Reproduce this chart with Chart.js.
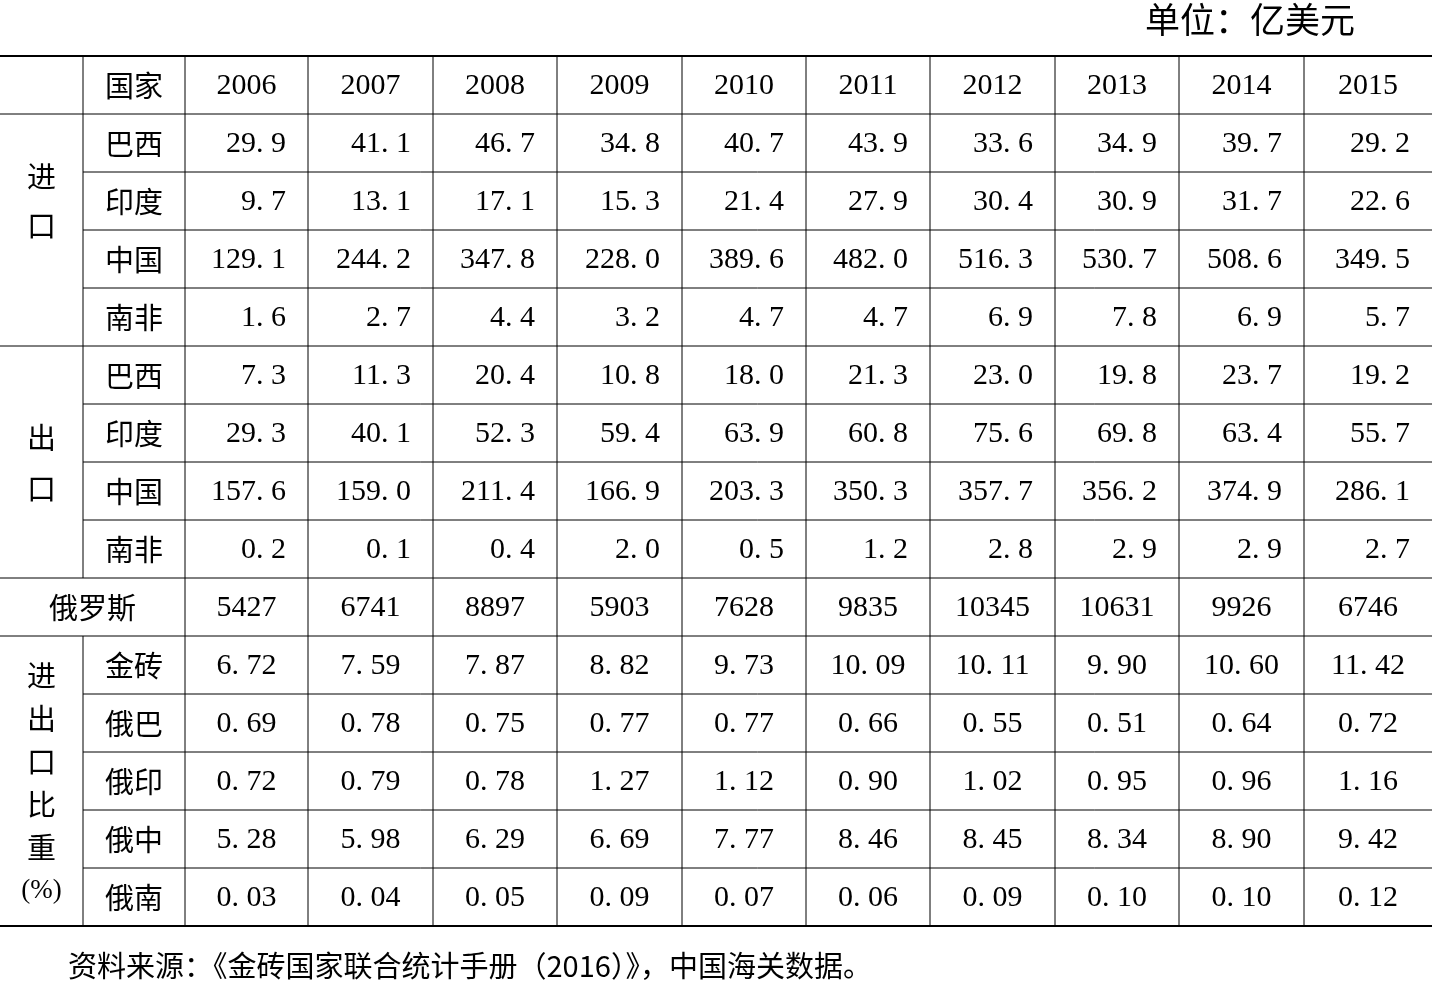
<!DOCTYPE html>
<html><head><meta charset="utf-8">
<script src="https://cdn.jsdelivr.net/npm/chart.js@4"></script>
<style>html,body{margin:0;padding:0;background:#fff}canvas{display:block}</style>
</head><body>
<canvas id="c" width="1432" height="986"></canvas>
<script>
const years = ["2006","2007","2008","2009","2010","2011","2012","2013","2014","2015"];
const countries = ["巴西","印度","中国","南非"];
const importBR = ["29.9","41.1","46.7","34.8","40.7","43.9","33.6","34.9","39.7","29.2"];
const importIN = ["9.7","13.1","17.1","15.3","21.4","27.9","30.4","30.9","31.7","22.6"];
const importCN = ["129.1","244.2","347.8","228.0","389.6","482.0","516.3","530.7","508.6","349.5"];
const importZA = ["1.6","2.7","4.4","3.2","4.7","4.7","6.9","7.8","6.9","5.7"];
const exportBR = ["7.3","11.3","20.4","10.8","18.0","21.3","23.0","19.8","23.7","19.2"];
const exportIN = ["29.3","40.1","52.3","59.4","63.9","60.8","75.6","69.8","63.4","55.7"];
const exportCN = ["157.6","159.0","211.4","166.9","203.3","350.3","357.7","356.2","374.9","286.1"];
const exportZA = ["0.2","0.1","0.4","2.0","0.5","1.2","2.8","2.9","2.9","2.7"];
const russiaTotal = ["5427","6741","8897","5903","7628","9835","10345","10631","9926","6746"];
const ratioLabels = ["金砖","俄巴","俄印","俄中","俄南"];
const ratioBRICS = ["6.72","7.59","7.87","8.82","9.73","10.09","10.11","9.90","10.60","11.42"];
const ratioBR = ["0.69","0.78","0.75","0.77","0.77","0.66","0.55","0.51","0.64","0.72"];
const ratioIN = ["0.72","0.79","0.78","1.27","1.12","0.90","1.02","0.95","0.96","1.16"];
const ratioCN = ["5.28","5.98","6.29","6.69","7.77","8.46","8.45","8.34","8.90","9.42"];
const ratioZA = ["0.03","0.04","0.05","0.09","0.07","0.06","0.09","0.10","0.10","0.12"];
const unitText = "单位：亿美元";
const sourceText = "资料来源：《金砖国家联合统计手册（2016）》，中国海关数据。";

const importRows = [importBR, importIN, importCN, importZA];
const exportRows = [exportBR, exportIN, exportCN, exportZA];
const ratioRows = [ratioBRICS, ratioBR, ratioIN, ratioCN, ratioZA];

const colEdges = [0, 83, 185, 308, 433, 557, 682, 806, 930, 1055, 1179, 1304, 1432];
const rowTop = 56, rowH = 58.0;
const SERIF = '"Liberation Serif", "DejaVu Serif", serif';
const CJK = '"Noto Sans CJK SC", sans-serif';

const tablePlugin = {
  id: 'table',
  afterDraw(chart) {
    const ctx = chart.ctx, X = v => chart.scales.x.getPixelForValue(v), Y = v => chart.scales.y.getPixelForValue(v);
    const rowY = r => rowTop + r * rowH;
    ctx.save();
    ctx.fillStyle = '#000'; ctx.strokeStyle = '#000';
    const hline = (x0, x1, y, w) => { ctx.lineWidth = w; ctx.beginPath(); ctx.moveTo(X(x0), Y(y)); ctx.lineTo(X(x1), Y(y)); ctx.stroke(); };
    const vline = (x, y0, y1) => { ctx.lineWidth = 1; ctx.beginPath(); ctx.moveTo(X(x), Y(y0)); ctx.lineTo(X(x), Y(y1)); ctx.stroke(); };
    hline(0, 1432, rowY(0), 2);
    for (let r = 1; r <= 14; r++) {
      const full = [1, 5, 9, 10].includes(r);
      hline(full ? 0 : colEdges[1], 1432, rowY(r), 1);
    }
    hline(0, 1432, rowY(15), 2);
    vline(colEdges[1], rowY(0), rowY(9));
    vline(colEdges[1], rowY(10), rowY(15));
    for (let c = 2; c < colEdges.length - 1; c++) vline(colEdges[c], rowY(0), rowY(15));
    ctx.textBaseline = 'middle';
    const txt = (s, x, y, align, font) => { ctx.font = font; ctx.textAlign = align; ctx.fillText(s, X(x), Y(y)); };
    const cy = r => rowY(r) + rowH / 2 + 1;
    const cjkF = '29px ' + CJK, numF = '30px ' + SERIF;
    const fmt = s => s.replace('.', '. ');
    txt("国家", (colEdges[1] + colEdges[2]) / 2, cy(0), 'center', cjkF);
    years.forEach((y, i) => txt(y, (colEdges[i + 2] + colEdges[i + 3]) / 2, cy(0), 'center', numF));
    const dataRow = (r, label, vals, align) => {
      if (label) txt(label, (colEdges[1] + colEdges[2]) / 2, cy(r), 'center', cjkF);
      vals.forEach((v, i) => {
        if (align === 'right') txt(fmt(v), colEdges[i + 3] - 22, cy(r), 'right', numF);
        else txt(fmt(v), (colEdges[i + 2] + colEdges[i + 3]) / 2, cy(r), 'center', numF);
      });
    };
    importRows.forEach((v, i) => dataRow(1 + i, countries[i], v, 'right'));
    exportRows.forEach((v, i) => dataRow(5 + i, countries[i], v, 'right'));
    txt("俄罗斯", (colEdges[0] + colEdges[2]) / 2, cy(9), 'center', cjkF);
    dataRow(9, null, russiaTotal, 'center');
    ratioRows.forEach((v, i) => dataRow(10 + i, ratioLabels[i], v, 'center'));
    const gx = colEdges[1] / 2;
    txt("进", gx, 177, 'center', cjkF); txt("口", gx, 226, 'center', cjkF);
    txt("出", gx, 438, 'center', cjkF); txt("口", gx, 489, 'center', cjkF);
    ["进", "出", "口", "比", "重"].forEach((s, i) => txt(s, gx, 676 + i * 43, 'center', cjkF));
    txt("(%)", gx, 891, 'center', '27px ' + SERIF);
    txt(unitText, 1355, 20, 'right', '35px ' + CJK);
    txt(sourceText, 68, 966, 'left', '29px ' + CJK);
    ctx.restore();
  }
};

new Chart(document.getElementById('c'), {
  type: 'scatter',
  data: { datasets: [] },
  options: {
    responsive: false, animation: false, devicePixelRatio: 1,
    layout: { padding: 0 },
    plugins: { legend: { display: false }, tooltip: { enabled: false } },
    scales: {
      x: { type: 'linear', min: 0, max: 1432, display: false },
      y: { type: 'linear', min: 0, max: 986, reverse: true, display: false }
    }
  },
  plugins: [tablePlugin]
});
</script>
</body></html>
